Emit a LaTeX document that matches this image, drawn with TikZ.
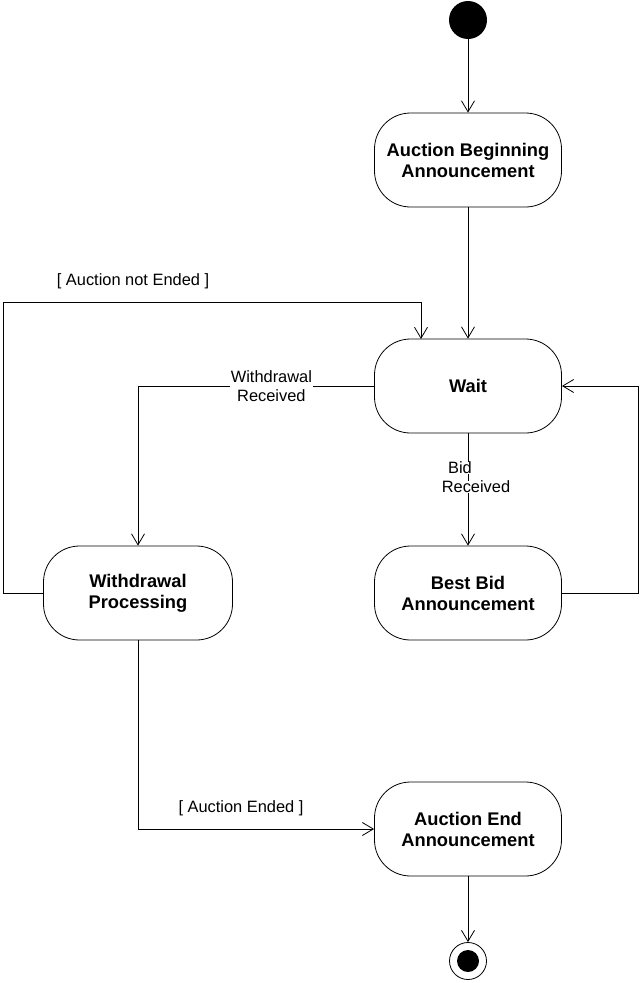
\documentclass[tikz,border=0pt]{standalone}
\usepackage{fontspec}
\setmainfont{Liberation Sans}
\usetikzlibrary{arrows.meta}
\begin{document}
\begin{tikzpicture}[x=1pt,y=-1pt,
  state/.style={draw,line width=0.8pt,rounded corners=36pt,minimum width=187pt,minimum height=94pt,
    align=center,font=\fontsize{18.3}{21}\selectfont\bfseries,inner sep=0pt},
  lbl/.style={font=\fontsize{16.4}{19}\selectfont,align=center,inner sep=1pt},
  arr/.style={draw,line width=0.8pt,-{Straight Barb[length=11pt,width=13pt,line width=0.8pt]}},
  conn/.style={draw,line width=0.8pt}]
\useasboundingbox (0,0) rectangle (640,983);
\node[circle,fill=black,minimum size=38pt,inner sep=0pt] (start) at (468,20) {};
\node[state] (aba) at (468,160) {Auction Beginning\\Announcement};
\node[state] (wait) at (468,386) {Wait};
\node[state,minimum width=189pt] (wp) at (138,593) {Withdrawal\\Processing};
\node[state] (bba) at (468,593) {Best Bid\\Announcement};
\node[state] (aea) at (468,829) {Auction End\\Announcement};
\node[circle,draw,line width=0.8pt,minimum size=37pt,inner sep=0pt] (end) at (468,961) {};
\node[circle,fill=black,minimum size=22pt,inner sep=0pt] (endin) at (end.center) {};
\coordinate (lt) at (3,302);
\coordinate (rt) at (638,386);
\coordinate (ae) at (421,339);

\draw[arr] (start) -- (aba);
\draw[arr] (aba) -- (wait);
\draw[arr] (wp.west) -| (lt) -| (ae);
\node[lbl] (lnotend) at (133,281) {[ Auction not Ended ]};
\draw[arr] (wait.west) -- node[lbl,pos=0.435,fill=white] (lwr) {Withdrawal\\Received} (wait.west -| wp.north) -- (wp.north);
\draw[arr] (bba.east) -| (rt) -- (wait.east);
\draw[arr] (wait) -- (bba);
\node[lbl,fill=white,inner sep=0pt] (lbid) at (460,468) {Bid};
\node[lbl,fill=white,inner sep=0pt] (lrec) at (476,487) {Received};
\draw[arr] (wp.south) |- (aea.west);
\node[lbl] (lend) at (241,808) {[ Auction Ended ]};
\draw[arr] (aea) -- (end);
\end{tikzpicture}
\end{document}
